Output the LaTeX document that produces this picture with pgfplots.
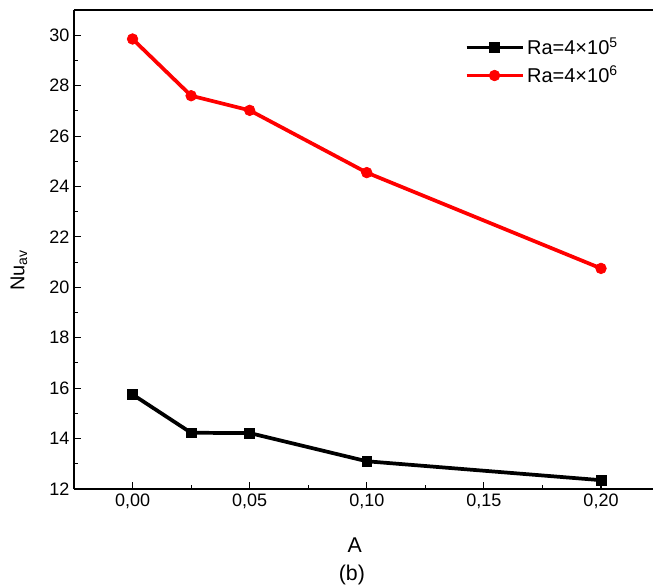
\documentclass[border=0pt]{standalone}
\usepackage{fontspec}
\setmainfont{Liberation Sans}
\usepackage{pgfplots}
\pgfplotsset{compat=1.18}

\begin{document}
\begin{tikzpicture}
\path[use as bounding box] (-55.5pt,-73.5pt) rectangle (434.25pt,366.75pt);
\begin{axis}[
  scale only axis,
  width=434.25pt, height=359.25pt,
  xmin=-0.025, xmax=0.2222, ymin=12, ymax=31,
  axis lines=left, axis line style={-, line width=0.8pt},
  xtick={0,0.05,0.1,0.15,0.2}, minor x tick num=1,
  ytick={12,14,...,30}, minor y tick num=1,
  tick align=inside, tick style={black, line width=0.8pt},
  major tick length=5pt, minor tick length=3pt,
  xticklabel style={font=\fontsize{13.5}{15}\selectfont,
    /pgf/number format/.cd, fixed, fixed zerofill, precision=2, use comma},
  yticklabel style={font=\fontsize{13.5}{15}\selectfont},
  /pgf/number format/assume math mode=true,
  xlabel={A}, xlabel style={font=\fontsize{16}{18}\selectfont, at={(axis description cs:0.485,-0.118)}, anchor=center},
  ylabel={Nu\textsubscript{av}}, ylabel style={font=\fontsize{15}{17}\selectfont, at={(axis description cs:-0.095,0.457)}, anchor=center},
  legend style={at={(axis description cs:0.672,0.95)}, anchor=north west, draw=none, fill=none,
    font=\fontsize{15}{17}\selectfont, row sep=3pt, inner sep=1pt},
  legend cell align=left,
  legend image code/.code={
    \draw[#1] (0pt,0pt) -- (42pt,0pt);
    \draw[#1, only marks] plot coordinates {(21pt,0pt)};
  },
  clip=false,
]
\addplot[black, line width=2.8pt, mark=square*, mark size=3.7pt, mark options={solid, line width=0.5pt}] coordinates {
  (0,15.75) (0.025,14.23) (0.05,14.22) (0.1,13.1) (0.2,12.35)
};
\addlegendentry{Ra=4×10\textsuperscript{5}}
\addplot[red, line width=2.8pt, mark=*, mark size=4pt, mark options={solid, line width=0.5pt}] coordinates {
  (0,29.85) (0.025,27.6) (0.05,27.02) (0.1,24.55) (0.2,20.75)
};
\addlegendentry{Ra=4×10\textsuperscript{6}}
\draw[line width=0.8pt] (axis description cs:0,1) -- (axis description cs:1,1);
\node[font=\fontsize{16}{18}\selectfont] at (axis description cs:0.48,-0.18) {(b)};
\end{axis}
\end{tikzpicture}
\end{document}
